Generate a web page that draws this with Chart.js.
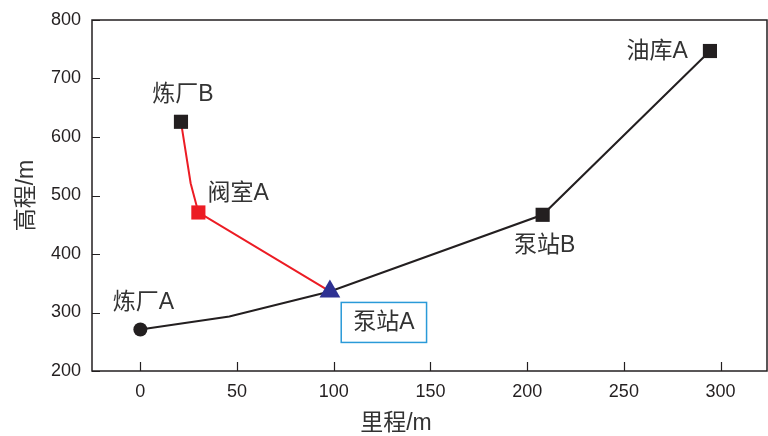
<!DOCTYPE html>
<html><head><meta charset="utf-8">
<script src="https://cdn.jsdelivr.net/npm/chart.js@4/dist/chart.umd.min.js"></script>
<style>html,body{margin:0;padding:0;background:#fff}#wrap{width:768px;height:436px}</style>
</head><body><div id="wrap"><canvas id="c" width="768" height="436"></canvas></div>
<script>
// ---- data ----
const mainX = [0, 46, 98, 208, 294.5];
const mainY = [271, 293, 336, 467, 747];
const branchX = [21, 26, 30, 98];
const branchY = [626, 521, 471, 336];
const stationX = [98];
const stationY = [336];
const xTicks = [0, 50, 100, 150, 200, 250, 300];
const yTicks = [200, 300, 400, 500, 600, 700, 800];
const siteNames = ['炼厂A', '泵站A', '泵站B', '油库A', '炼厂B', '阀室A'];
const siteX = [0, 98, 208, 294.5, 21, 30];
const siteY = [271, 336, 467, 747, 626, 471];
const xTitle = '里程/m';
const yTitle = '高程/m';

// ---- styles ----
const FONT = "'Liberation Sans','Noto Sans CJK SC',sans-serif";
const INK = '#231f20';
const RED = '#ec1c24';
const NAVY = '#2e3192';
// label placement: [dx, dy, align] relative to the point pixel
const labelPlace = [
  [3, -27, 'center'],
  [54, 31, 'center'],
  [2, 31, 'center'],
  [-22, 1, 'right'],
  [2, -27, 'center'],
  [9, -19, 'left']
];
const boxedIndex = 1;

const toPts = (xs, ys) => xs.map((x, i) => ({x, y: ys[i]}));

const decor = {
  id: 'decor',
  afterDatasetsDraw(chart) {
    const {ctx, chartArea: a, scales: {x, y}} = chart;
    ctx.save();
    // frame
    ctx.strokeStyle = INK;
    ctx.lineWidth = 1.5;
    ctx.strokeRect(a.left, a.top, a.right - a.left, a.bottom - a.top);
    // inward ticks
    ctx.lineWidth = 1.2;
    ctx.beginPath();
    xTicks.forEach(v => {
      const px = Math.round(x.getPixelForValue(v)) + 0.5;
      ctx.moveTo(px, a.bottom); ctx.lineTo(px, a.bottom - 9);
    });
    yTicks.forEach(v => {
      const py = Math.round(y.getPixelForValue(v)) + 0.5;
      ctx.moveTo(a.left, py); ctx.lineTo(a.left + 8, py);
    });
    ctx.stroke();
    // site labels
    ctx.font = '23px ' + FONT;
    ctx.fillStyle = '#333333';
    ctx.textBaseline = 'middle';
    siteNames.forEach((name, i) => {
      const px = x.getPixelForValue(siteX[i]);
      const py = y.getPixelForValue(siteY[i]);
      const [dx, dy, al] = labelPlace[i];
      ctx.textAlign = al;
      ctx.fillText(name, px + dx, py + dy);
      if (i === boxedIndex) {
        const w = ctx.measureText(name).width;
        const cx = px + dx, cy = py + dy;
        ctx.strokeStyle = '#2a9ad8';
        ctx.lineWidth = 1.5;
        ctx.strokeRect(cx - w / 2 - 12, cy - 20, w + 24, 40);
      }
    });
    // x-axis title
    ctx.fillStyle = '#333333';
    ctx.textAlign = 'center';
    ctx.fillText(xTitle, 396, 424);
    ctx.restore();
  }
};

new Chart(document.getElementById('c'), {
  type: 'scatter',
  data: {
    datasets: [
      {
        data: toPts(stationX, stationY),
        pointStyle: 'triangle',
        pointRadius: 12,
        pointBackgroundColor: NAVY,
        pointBorderWidth: 0,
        showLine: false,
        order: 0
      },
      {
        data: toPts(mainX, mainY),
        showLine: true,
        borderColor: INK,
        borderWidth: 2,
        pointStyle: ['circle', 'circle', 'circle', 'rect', 'rect'],
        pointRadius: [7, 0, 0, 10, 10],
        pointBackgroundColor: INK,
        pointBorderWidth: 0,
        order: 2
      },
      {
        data: toPts(branchX, branchY),
        showLine: true,
        borderColor: RED,
        borderWidth: 2,
        pointStyle: ['rect', 'circle', 'rect', 'circle'],
        pointRadius: [10, 0, 10, 0],
        pointBackgroundColor: [INK, RED, RED, RED],
        pointBorderWidth: 0,
        order: 1
      }
    ]
  },
  options: {
    responsive: false,
    animation: false,
    events: [],
    layout: {autoPadding: false, padding: {top: 20, right: 1, left: 0, bottom: 0}},
    plugins: {legend: {display: false}, tooltip: {enabled: false}},
    scales: {
      x: {
        type: 'linear', min: -25, max: 324,
        afterBuildTicks: s => { s.ticks = xTicks.map(v => ({value: v})); },
        afterFit: s => { s.height = 65; s.paddingLeft = 0; s.paddingRight = 0; },
        grid: {display: false, drawTicks: false},
        border: {display: false},
        ticks: {color: INK, font: {family: FONT, size: 18}, padding: 10, maxRotation: 0}
      },
      y: {
        type: 'linear', min: 200, max: 800,
        afterBuildTicks: s => { s.ticks = yTicks.map(v => ({value: v})); },
        afterFit: s => { s.width = 92; s.paddingTop = 0; s.paddingBottom = 0; },
        grid: {display: false, drawTicks: false},
        border: {display: false},
        ticks: {color: INK, font: {family: FONT, size: 18}, padding: 11},
        title: {display: true, text: yTitle, color: '#333333', font: {family: FONT, size: 23, lineHeight: 1}, padding: {top: 15, bottom: 0}}
      }
    }
  },
  plugins: [decor]
});
</script>
</body></html>
